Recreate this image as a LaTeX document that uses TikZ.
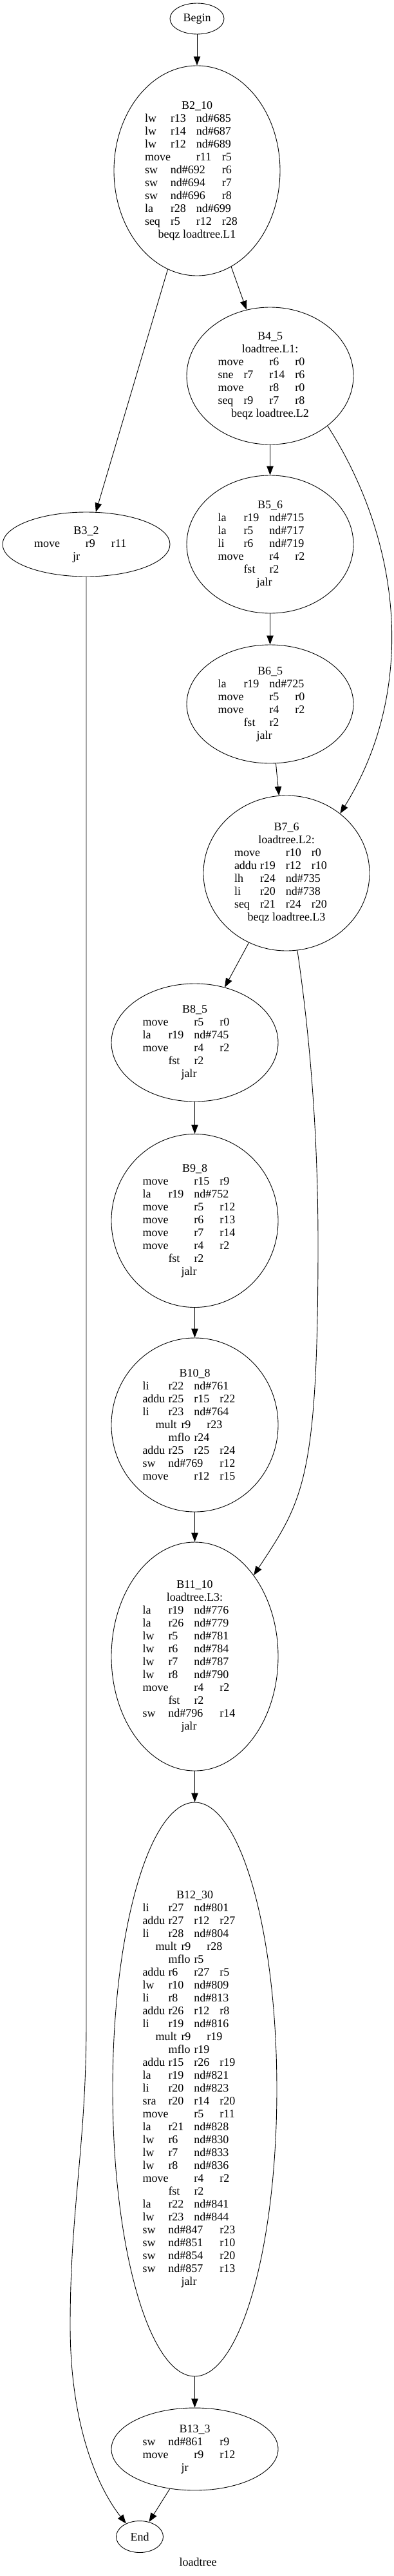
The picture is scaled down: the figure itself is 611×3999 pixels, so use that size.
\documentclass[tikz,border=0pt]{standalone}
\usepackage{fontspec}
\setmainfont{Liberation Serif}
\usetikzlibrary{shapes.geometric}
\usetikzlibrary{arrows.meta}

\newcommand{\instr}[4]{\makebox[40pt][l]{#1}\makebox[40pt][l]{#2}\makebox[40pt][l]{#3}\makebox[40pt][l]{#4}}
\newcommand{\instrh}[3]{\hspace*{20pt}\makebox[40pt][l]{#1}\makebox[40pt][l]{#2}#3}
\newcommand{\cen}[1]{\makebox[162pt]{#1}}
\newcommand{\jmp}[1]{\hspace*{60pt}#1}
\newcommand{\blk}[1]{\makebox[0pt]{\parbox{162pt}{#1}}}

\begin{document}
\begin{tikzpicture}[x=1pt,y=-1pt,every node/.style={font=\fontsize{18}{20}\selectfont},blk/.style={draw,ellipse,inner sep=0pt,line width=0.9pt},edge/.style={line width=0.9pt,-{Triangle[length=14pt,width=10.5pt]}}]
  \useasboundingbox (0,0) rectangle (611,3999);
  %entry
  \node[blk,minimum width=84pt,minimum height=48pt] (begin) at (306,29) {Begin};
  \node[blk,minimum width=258pt,minimum height=326pt] (b2) at (306,265) {\blk{\cen{B2\_10}\\ \instr{lw}{r13}{nd\#685}{}\\ \instr{lw}{r14}{nd\#687}{}\\ \instr{lw}{r12}{nd\#689}{}\\ \instr{move}{}{r11}{r5}\\ \instr{sw}{nd\#692}{}{r6}\\ \instr{sw}{nd\#694}{}{r7}\\ \instr{sw}{nd\#696}{}{r8}\\ \instr{la}{r28}{nd\#699}{}\\ \instr{seq}{r5}{r12}{r28}\\ \cen{beqz loadtree.L1}}};
  %left branch
  \node[blk,minimum width=260pt,minimum height=100pt] (b3) at (134,845) {\blk{\cen{B3\_2}\\ \instr{move}{}{r9}{r11}\\ \jmp{jr}}};
  %right column
  \node[blk,minimum width=259pt,minimum height=213pt] (b4) at (419.5,583.5) {\blk{\cen{B4\_5}\\ \cen{loadtree.L1:}\\ \instr{move}{}{r6}{r0}\\ \instr{sne}{r7}{r14}{r6}\\ \instr{move}{}{r8}{r0}\\ \instr{seq}{r9}{r7}{r8}\\ \cen{beqz loadtree.L2}}};
  \node[blk,minimum width=259pt,minimum height=214pt] (b5) at (419.5,845) {\blk{\cen{B5\_6}\\ \instr{la}{r19}{nd\#715}{}\\ \instr{la}{r5}{nd\#717}{}\\ \instr{li}{r6}{nd\#719}{}\\ \instr{move}{}{r4}{r2}\\ \instr{}{fst}{r2}{}\\ \jmp{jalr}}};
  \node[blk,minimum width=259pt,minimum height=184pt] (b6) at (419.5,1093) {\blk{\cen{B6\_5}\\ \instr{la}{r19}{nd\#725}{}\\ \instr{move}{}{r5}{r0}\\ \instr{move}{}{r4}{r2}\\ \instr{}{fst}{r2}{}\\ \jmp{jalr}}};
  \node[blk,minimum width=258pt,minimum height=241pt] (b7) at (445,1355.5) {\blk{\cen{B7\_6}\\ \cen{loadtree.L2:}\\ \instr{move}{}{r10}{r0}\\ \instr{addu}{r19}{r12}{r10}\\ \instr{lh}{r24}{nd\#735}{}\\ \instr{li}{r20}{nd\#738}{}\\ \instr{seq}{r21}{r24}{r20}\\ \cen{beqz loadtree.L3}}};
  %lower column
  \node[blk,minimum width=259pt,minimum height=183pt] (b8) at (302.5,1618.5) {\blk{\cen{B8\_5}\\ \instr{move}{}{r5}{r0}\\ \instr{la}{r19}{nd\#745}{}\\ \instr{move}{}{r4}{r2}\\ \instr{}{fst}{r2}{}\\ \jmp{jalr}}};
  \node[blk,minimum width=259pt,minimum height=269pt] (b9) at (302.5,1895) {\blk{\cen{B9\_8}\\ \instr{move}{}{r15}{r9}\\ \instr{la}{r19}{nd\#752}{}\\ \instr{move}{}{r5}{r12}\\ \instr{move}{}{r6}{r13}\\ \instr{move}{}{r7}{r14}\\ \instr{move}{}{r4}{r2}\\ \instr{}{fst}{r2}{}\\ \jmp{jalr}}};
  \node[blk,minimum width=259pt,minimum height=270pt] (b10) at (302.5,2212) {\blk{\cen{B10\_8}\\ \instr{li}{r22}{nd\#761}{}\\ \instr{addu}{r25}{r15}{r22}\\ \instr{li}{r23}{nd\#764}{}\\ \instrh{mult}{r9}{r23}\\ \instr{}{mflo}{r24}{}\\ \instr{addu}{r25}{r25}{r24}\\ \instr{sw}{nd\#769}{}{r12}\\ \instr{move}{}{r12}{r15}}};
  \node[blk,minimum width=259pt,minimum height=355pt] (b11) at (302.5,2571.5) {\blk{\cen{B11\_10}\\ \cen{loadtree.L3:}\\ \instr{la}{r19}{nd\#776}{}\\ \instr{la}{r26}{nd\#779}{}\\ \instr{lw}{r5}{nd\#781}{}\\ \instr{lw}{r6}{nd\#784}{}\\ \instr{lw}{r7}{nd\#787}{}\\ \instr{lw}{r8}{nd\#790}{}\\ \instr{move}{}{r4}{r2}\\ \instr{}{fst}{r2}{}\\ \instr{sw}{nd\#796}{}{r14}\\ \jmp{jalr}}};
  \node[blk,minimum width=255pt,minimum height=891pt] (b12) at (302.5,3243.5) {\blk{\cen{B12\_30}\\ \instr{li}{r27}{nd\#801}{}\\ \instr{addu}{r27}{r12}{r27}\\ \instr{li}{r28}{nd\#804}{}\\ \instrh{mult}{r9}{r28}\\ \instr{}{mflo}{r5}{}\\ \instr{addu}{r6}{r27}{r5}\\ \instr{lw}{r10}{nd\#809}{}\\ \instr{li}{r8}{nd\#813}{}\\ \instr{addu}{r26}{r12}{r8}\\ \instr{li}{r19}{nd\#816}{}\\ \instrh{mult}{r9}{r19}\\ \instr{}{mflo}{r19}{}\\ \instr{addu}{r15}{r26}{r19}\\ \instr{la}{r19}{nd\#821}{}\\ \instr{li}{r20}{nd\#823}{}\\ \instr{sra}{r20}{r14}{r20}\\ \instr{move}{}{r5}{r11}\\ \instr{la}{r21}{nd\#828}{}\\ \instr{lw}{r6}{nd\#830}{}\\ \instr{lw}{r7}{nd\#833}{}\\ \instr{lw}{r8}{nd\#836}{}\\ \instr{move}{}{r4}{r2}\\ \instr{}{fst}{r2}{}\\ \instr{la}{r22}{nd\#841}{}\\ \instr{lw}{r23}{nd\#844}{}\\ \instr{sw}{nd\#847}{}{r23}\\ \instr{sw}{nd\#851}{}{r10}\\ \instr{sw}{nd\#854}{}{r20}\\ \instr{sw}{nd\#857}{}{r13}\\ \jmp{jalr}}};
  \node[blk,minimum width=259pt,minimum height=128pt] (b13) at (302.5,3802) {\blk{\cen{B13\_3}\\ \instr{sw}{nd\#861}{}{r9}\\ \instr{move}{}{r9}{r12}\\ \jmp{jr}}};
  %exit
  \node[blk,minimum width=73pt,minimum height=49pt] (end) at (217,3938) {End};
  \node (title) at (307.5,3977) {loadtree};

  %edges
  \draw[edge] (begin) -- (b2);
  \draw[edge] (b2) -- (b3);
  \draw[edge] (b2) -- (b4);
  \draw[edge] (b4) -- (b5);
  \draw[edge] (b4.-41.5) .. controls (629.5,850) and (643.6,1078) .. (b7.48.7);
  \draw[edge] (b5) -- (b6);
  \draw[edge] (b6) -- (b7);
  \draw[edge] (b7) -- (b8);
  \draw[edge] (b7.-82) .. controls (484,1626) and (494,1780) .. (494,1930) .. controls (494,2300) and (470,2330) .. (b11.54);
  \draw[edge] (b8) -- (b9);
  \draw[edge] (b9) -- (b10);
  \draw[edge] (b10) -- (b11);
  \draw[edge] (b11) -- (b12);
  \draw[edge] (b12) -- (b13);
  \draw[edge] (b13) -- (end);
  \draw[edge] (b3) -- (134,3140) .. controls (134,3330) and (109,3430) .. (109,3610) .. controls (109,3760) and (149,3858) .. (end.136);
\end{tikzpicture}
\end{document}
